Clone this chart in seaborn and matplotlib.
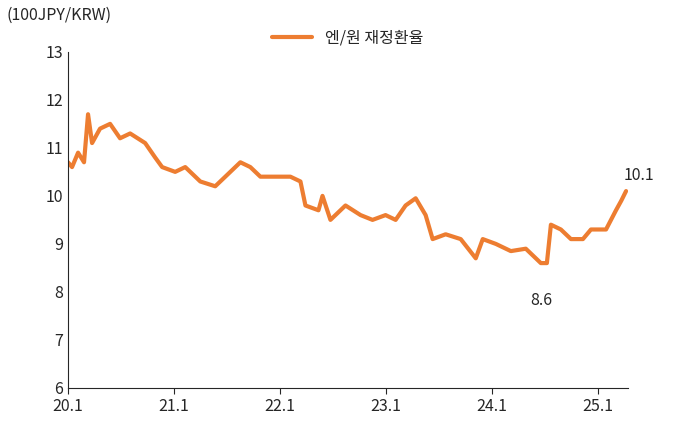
import matplotlib
matplotlib.use("Agg")
import matplotlib.pyplot as plt
import seaborn as sns
import pandas as pd

sns.set_style("ticks")
plt.rcParams['font.family'] = ['Noto Sans CJK KR', 'DejaVu Sans']

years = [0, .038, .095, .151, .189, .227, .302, .397, .491, .586, .728, .822, .888,
         1.011, 1.106, 1.248, 1.389, 1.484, 1.626, 1.720, 1.815, 1.957, 2.098, 2.193,
         2.240, 2.363, 2.401, 2.476, 2.618, 2.760, 2.873, 2.996, 3.091, 3.185, 3.280,
         3.374, 3.440, 3.563, 3.705, 3.847, 3.913, 4.036, 4.178, 4.319, 4.461, 4.518,
         4.556, 4.650, 4.745, 4.858, 4.934, 5.076, 5.170, 5.220, 5.265]
values = [10.7, 10.6, 10.9, 10.7, 11.7, 11.1, 11.4, 11.5, 11.2, 11.3, 11.1, 10.8, 10.6,
          10.5, 10.6, 10.3, 10.2, 10.4, 10.7, 10.6, 10.4, 10.4, 10.4, 10.3,
          9.8, 9.7, 10.0, 9.5, 9.8, 9.6, 9.5, 9.6, 9.5, 9.8, 9.95,
          9.6, 9.1, 9.2, 9.1, 8.7, 9.1, 9.0, 8.85, 8.9, 8.6, 8.6,
          9.4, 9.3, 9.1, 9.1, 9.3, 9.3, 9.7, 9.9, 10.1]
tick_labels = ["20.1", "21.1", "22.1", "23.1", "24.1", "25.1"]

df = pd.DataFrame({"x": [2020 + y for y in years], "v": values})
color = "#ED7D31"

fig = plt.figure(figsize=(6.94, 4.32), dpi=100)
ax = fig.add_axes([0.098, 0.102, 0.807, 0.778])
sns.lineplot(data=df, x="x", y="v", ax=ax, color=color, lw=3, label="엔/원 재정환율")
ax.set_xlim(2020, 2025.284)
ax.set_ylim(6, 13)
ax.set_xticks([2020 + i for i in range(6)])
ax.set_xticklabels(tick_labels)
ax.set_yticks(range(6, 14))
ax.tick_params(labelsize=11.5, direction="out", length=4)
ax.tick_params(axis="y", length=0)
ax.set_xlabel("")
ax.set_ylabel("")
sns.despine(ax=ax)
ax.legend(loc="upper center", bbox_to_anchor=(0.5, 1.11), frameon=False, fontsize=11.5,
          handlelength=2.5)
fig.text(0.01, 0.955, "(100JPY/KRW)", fontsize=11.5)
ax.annotate("10.1", (df.x.iloc[-1], values[-1]), xytext=(-2, 8), textcoords="offset points",
            fontsize=11.5)
ax.annotate("8.6", (2020 + 4.36, 8.6), xytext=(0, -30), textcoords="offset points",
            fontsize=11.5)
fig.savefig("out.png", dpi=100)
